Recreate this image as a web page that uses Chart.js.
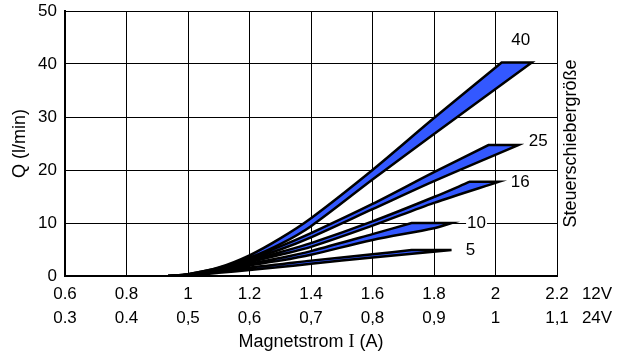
<!DOCTYPE html>
<html>
<head>
<meta charset="utf-8">
<script src="https://cdn.jsdelivr.net/npm/chart.js@4"></script>
<style>
    html, body { margin: 0; padding: 0; background: #fff; }
</style>
</head>
<body>
<canvas id="flowChart" width="627" height="354"></canvas>
<script>
// Band names (Steuerschiebergröße)
const bandSizes = ["40", "25", "16", "10", "5"];

// Each band outline: rising edge, flat top (corners listed twice so they stay sharp), falling edge back
// x = Magnetstrom I (A, 12V), y = Q (l/min)
const outline40 = [[0.935, 0], [1.0, 0.35], [1.1, 1.6], [1.2, 3.9], [1.3, 7.1], [1.4, 10.9], [1.6, 20.0], [1.8, 29.8], [2.02, 40.3], [2.02, 40.3],
    [2.118, 40.3], [2.118, 40.3], [1.8, 26.8], [1.6, 18.2], [1.4, 9.4], [1.3, 6.0], [1.2, 3.4], [1.1, 1.4], [1.0, 0.3], [0.935, 0]];
const outline25 = [[0.935, 0], [1.0, 0.35], [1.1, 1.5], [1.2, 3.4], [1.3, 5.6], [1.4, 8.1], [1.6, 13.6], [1.8, 19.6], [1.977, 24.7], [1.977, 24.7],
    [2.074, 24.7], [2.074, 24.7], [1.8, 17.9], [1.6, 12.6], [1.4, 7.3], [1.3, 5.0], [1.2, 3.1], [1.1, 1.3], [1.0, 0.3], [0.935, 0]];
const outline16 = [[0.935, 0], [1.0, 0.3], [1.1, 1.3], [1.2, 2.9], [1.3, 4.5], [1.4, 6.2], [1.6, 10.3], [1.8, 14.9], [1.917, 17.8], [1.917, 17.8],
    [2.012, 17.8], [2.012, 17.8], [1.8, 13.8], [1.6, 9.5], [1.4, 5.5], [1.3, 4.0], [1.2, 2.6], [1.1, 1.2], [1.0, 0.25], [0.935, 0]];
const outline10 = [[0.935, 0], [1.0, 0.25], [1.1, 1.1], [1.2, 2.3], [1.3, 3.4], [1.4, 4.7], [1.6, 7.9], [1.727, 10], [1.727, 10],
    [1.857, 10], [1.857, 10], [1.8, 9.0], [1.6, 6.8], [1.4, 4.0], [1.3, 2.9], [1.2, 2.0], [1.1, 1.0], [1.0, 0.2], [0.935, 0]];
const outline5 = [[0.935, 0], [1.0, 0.15], [1.1, 0.8], [1.2, 1.6], [1.3, 2.2], [1.4, 2.9], [1.6, 4.1], [1.727, 4.9], [1.727, 4.9],
    [1.857, 4.9], [1.857, 4.9], [1.6, 3.5], [1.4, 2.3], [1.3, 1.7], [1.2, 1.15], [1.1, 0.6], [1.0, 0.12], [0.935, 0]];
const outlines = [outline40, outline25, outline16, outline10, outline5];

// Axis ticks
const xTickValues = [0.6, 0.8, 1.0, 1.2, 1.4, 1.6, 1.8, 2.0, 2.2];
const xTicks12V = ["0.6", "0.8", "1", "1.2", "1.4", "1.6", "1.8", "2", "2.2"];
const xTicks24V = ["0.3", "0.4", "0,5", "0,6", "0,7", "0,8", "0,9", "1", "1,1"];
const voltageRows = ["12V", "24V"];
const yTickValues = [0, 10, 20, 30, 40, 50];
// x title in three parts: the "I" is set in a serif face
const xTitleParts = ["Magnetstrom ", "I", " (A)"];

const fontFamily = '"Liberation Sans", Arial, sans-serif';
const serifFamily = '"Liberation Serif", "Times New Roman", serif';
const tickFont = { size: 17, family: fontFamily, lineHeight: 1.37 };
const tickPad = 7;
// where each band name sits, relative to the band's top right corner (px)
const labelShift = [[-11, -22], [20, -4], [21, 1], [25, 0], [19, 0]];

// Extra texts: band names, voltage names, axis titles
const extraText = {
    id: "extraText",
    afterDraw(chart) {
        const { ctx, chartArea: area, scales: { x, y } } = chart;
        ctx.save();
        ctx.font = "17px " + fontFamily;
        ctx.textAlign = "center";
        ctx.textBaseline = "middle";

        bandSizes.forEach((size, i) => {
            const corner = outlines[i].reduce((a, b) => (b[0] > a[0] ? b : a));
            const px = x.getPixelForValue(corner[0]) + labelShift[i][0];
            const py = y.getPixelForValue(corner[1]) + labelShift[i][1];
            const w = ctx.measureText(size).width;
            ctx.fillStyle = "#fff";
            ctx.fillRect(px - w / 2 - 1, py - 7, w + 2, 14);
            ctx.fillStyle = "#000";
            ctx.fillText(size, px, py);
        });

        const line = tickFont.size * tickFont.lineHeight;
        const rowY = x.top + tickPad + line / 2;
        ctx.fillText(voltageRows[0], area.right + 40, rowY);
        ctx.fillText(voltageRows[1], area.right + 40, rowY + line);

        // x title, centred under the plot
        const fonts = ["18px " + fontFamily, "18px " + serifFamily, "18px " + fontFamily];
        const widths = xTitleParts.map((t, i) => { ctx.font = fonts[i]; return ctx.measureText(t).width; });
        let tx = (area.left + area.right) / 2 - widths.reduce((a, b) => a + b, 0) / 2;
        ctx.textAlign = "left";
        xTitleParts.forEach((t, i) => {
            ctx.font = fonts[i];
            ctx.fillText(t, tx, 342);
            tx += widths[i];
        });

        ctx.textAlign = "center";
        ctx.translate(area.right + 14, (area.top + area.bottom) / 2);
        ctx.rotate(-Math.PI / 2);
        ctx.font = "18px " + fontFamily;
        ctx.fillText("Steuerschiebergröße", 0, 0);
        ctx.restore();
    }
};

const ctx = document.getElementById("flowChart");
new Chart(ctx, {
    type: "line",
    data: {
        datasets: outlines.map((pts, i) => ({
            label: bandSizes[i],
            data: pts.map(p => ({ x: p[0], y: p[1] })),
            borderColor: "#000",
            backgroundColor: "#3358ff",
            borderWidth: 2.5,
            borderJoinStyle: "miter",
            fill: "shape",
            tension: 0.3,
            pointRadius: 0
        }))
    },
    options: {
        responsive: false,
        animation: false,
        layout: { padding: { top: 11, right: 70, bottom: 0, left: 0 } },
        plugins: {
            legend: { display: false },
            tooltip: { enabled: false }
        },
        scales: {
            x: {
                type: "linear",
                min: 0.6,
                max: 2.2,
                afterBuildTicks: s => { s.ticks = xTickValues.map(v => ({ value: v })); },
                afterFit: s => { s.height = 78; },
                grid: { color: "#000", lineWidth: 1, drawTicks: false },
                border: { color: "#000", width: 2 },
                ticks: {
                    padding: tickPad,
                    color: "#000",
                    maxRotation: 0,
                    autoSkip: false,
                    font: tickFont,
                    callback: (v, i) => [xTicks12V[i], xTicks24V[i]]
                }
            },
            y: {
                min: 0,
                max: 50,
                afterBuildTicks: s => { s.ticks = yTickValues.map(v => ({ value: v })); },
                afterFit: s => { s.width = 65; s.paddingTop = 0; s.paddingBottom = 0; },
                grid: { color: "#000", lineWidth: 1, drawTicks: false },
                border: { color: "#000", width: 2 },
                ticks: {
                    padding: 8,
                    color: "#000",
                    font: { size: 17, family: fontFamily }
                },
                title: {
                    display: true,
                    text: "Q (l/min)",
                    color: "#000",
                    font: { size: 18, family: fontFamily },
                    padding: { top: 9, bottom: 0 }
                }
            }
        }
    },
    plugins: [extraText]
});
</script>
</body>
</html>
